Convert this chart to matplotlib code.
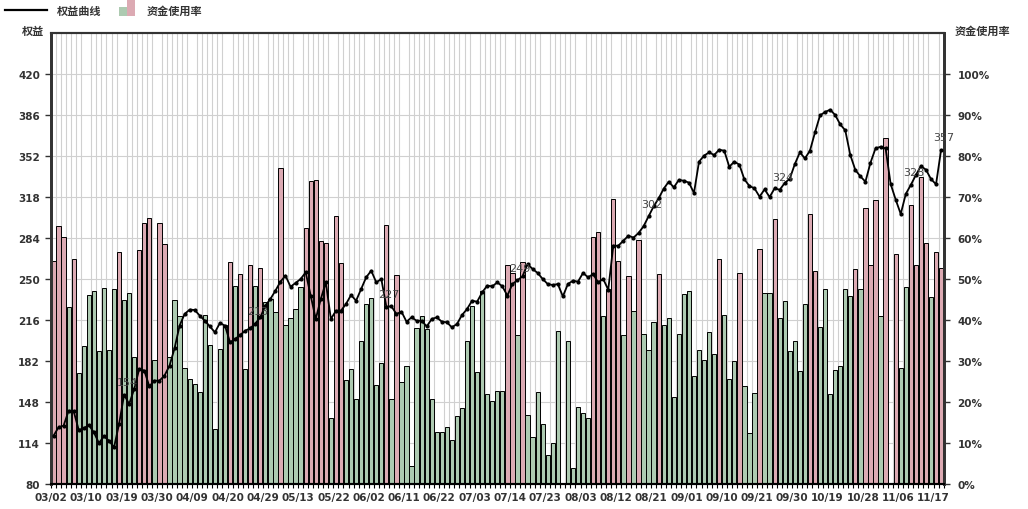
import matplotlib
matplotlib.use("Agg")
import matplotlib.pyplot as plt
from matplotlib.patches import Rectangle
from matplotlib.lines import Line2D
import numpy as np

CJK = ['Noto Sans CJK SC', 'DejaVu Sans']

# x axis labels, one every 7 trading days
date_labels = ['03/02', '03/10', '03/19', '03/30', '04/09', '04/20', '04/29',
               '05/13', '05/22', '06/02', '06/11', '06/22', '07/03', '07/14',
               '07/23', '08/03', '08/12', '08/21', '09/01', '09/10', '09/21',
               '09/30', '10/19', '10/28', '11/06', '11/17']

# equity curve (left axis)
equity = [
    120, 127, 128.4, 140.8, 140.3, 124.8, 126.2, 128.9, 122.8, 114.0,
    119.5, 115.9, 110.4, 129.8, 154, 146.3, 158.8, 175.4, 174.0, 161.0,
    165.7, 165.7, 169.8, 178.1, 192.5, 211.3, 221.0, 224.6, 224.3, 219.6,
    215.4, 210.7, 205.8, 213.5, 211.3, 197.5, 200.2, 203.5, 207.1, 209.1,
    213, 218.2, 227.9, 233.4, 240.3, 247.8, 252.8, 243.6, 246.7, 250.0,
    255.5, 236.2, 216.8, 233.4, 247.2, 216.8, 223.7, 223.7, 229.3, 236.7,
    232.0, 241.7, 251.4, 256.9, 247.2, 250.0, 227, 227.3, 221.0, 222.9,
    214.6, 218.2, 215.4, 215.4, 210.7, 216.8, 218.2, 214.6, 214.1, 209.9,
    212.7, 220.1, 225.1, 232.0, 231.2, 238.9, 244.5, 243.9, 247.2, 243.9,
    236.2, 245.8, 249, 252.2, 262.4, 258.3, 255.0, 250.0, 245.8, 245.0,
    245.8, 235.6, 245.8, 248.6, 247.8, 255.0, 251.4, 254.1, 247.2, 250.0,
    241.1, 277.6, 277.6, 281.8, 285.9, 284.3, 288.1, 293.7, 302, 310.2,
    316.9, 324.9, 330.7, 326.0, 332.1, 331.5, 329.9, 321.3, 347.3, 352.3,
    355.0, 352.8, 357.2, 356.4, 343.1, 347.3, 344.8, 332.6, 327.1, 325.2,
    318.3, 324.3, 318.0, 325.2, 324, 329.6, 333.2, 345.3, 355.0, 350.0,
    356.4, 371.6, 385.7, 388.5, 390.4, 386.0, 378.2, 373.3, 352.8, 340.4,
    335.1, 330.7, 346.4, 358.3, 359.7, 358.3, 328.8, 315.8, 303.9, 320.5,
    328, 336.2, 343.7, 340.6, 332.9, 328.5, 357]

# points of the curve that carry a value label
labelled_points = [14, 40, 66, 92, 118, 144, 170, 176]

# capital usage in % (right axis)
usage = [
    54.5, 62.9, 60.2, 43.1, 54.8, 27.0, 33.6, 46.0, 47.0, 32.4,
    47.7, 32.6, 47.5, 56.7, 44.8, 46.5, 30.9, 57.0, 63.6, 64.9,
    30.2, 63.6, 58.5, 31.0, 45.0, 41.0, 28.2, 25.7, 24.5, 22.5,
    41.2, 34.0, 13.4, 33.0, 38.8, 54.1, 48.4, 51.2, 28.0, 53.3,
    48.2, 52.8, 44.3, 45.1, 41.9, 77.0, 38.9, 40.4, 42.6, 48.1,
    62.4, 73.8, 74.1, 59.2, 58.8, 16.0, 65.3, 53.8, 25.4, 28.0,
    20.7, 34.8, 43.8, 45.3, 24.1, 29.4, 63.1, 20.7, 50.9, 25.0,
    28.7, 4.5, 38.0, 40.9, 37.8, 20.7, 12.6, 12.6, 13.8, 10.7,
    16.5, 18.5, 34.8, 43.3, 27.2, 47.0, 21.9, 20.2, 22.8, 22.8,
    53.4, 51.5, 36.3, 54.1, 16.8, 11.4, 22.4, 14.6, 7.1, 10.0,
    37.2, 0, 35.0, 3.8, 18.9, 17.3, 16.0, 60.2, 61.4, 40.9,
    47.6, 69.5, 54.3, 36.4, 50.7, 42.1, 59.4, 36.7, 32.6, 39.4,
    51.1, 38.9, 40.4, 21.1, 36.5, 46.3, 47.0, 26.3, 32.6, 30.2,
    37.0, 31.6, 55.0, 41.1, 25.5, 29.9, 51.5, 23.8, 12.4, 22.1,
    57.2, 46.5, 46.7, 64.6, 40.4, 44.6, 32.4, 34.8, 27.5, 43.8,
    65.8, 51.9, 38.2, 47.5, 21.9, 27.7, 28.9, 47.5, 45.8, 52.4,
    47.5, 67.3, 53.3, 69.2, 40.9, 84.3, 0, 56.0, 28.2, 48.0,
    68.0, 53.3, 75.0, 58.7, 45.5, 56.5, 52.6]

# p = pink bar, g = green bar
usage_kind = ("pppgpggggg" "gggpgggppp" "gppggggggg" "gggggpgpgp"
              "gpgggpgggg" "pppppgppgg" "ggggggpgpg" "gggggggggg"
              "gggggggggg" "ppgpgggggg" "gggggggppg" "pppgpgpggg"
              "pggggggggg" "ggpgggpggg" "pggpgggggg" "ppgggggggp"
              "gpppgpgpgg" "ppppgpp")

PINK = '#dcaab3'
GREEN = '#adcab1'
GRID = '#d0d0d0'
TXT = '#333333'

n = len(usage)
x = np.arange(n)
bar_colors = [PINK if k == 'p' else GREEN for k in usage_kind]

fig = plt.figure(figsize=(10.28, 5.10), dpi=100)
ax = fig.add_axes([51 / 1028, 25 / 510, 892.6 / 1028, 451 / 510])
ax2 = ax.twinx()

# bars on the percent axis (right side)
ax.bar(x, usage, width=0.85, color=bar_colors, edgecolor='black',
       linewidth=0.7, zorder=2)
ax.set_xlim(-0.5, n - 0.5)
ax.set_ylim(0, 110)
ax.yaxis.tick_right()
ax.set_yticks(np.arange(0, 101, 10))
ax.set_yticklabels([f'{v}%' for v in range(0, 101, 10)])
ax.set_xticks(np.arange(0, n, 7) - 0.5)
ax.set_xticklabels(date_labels)
ax.set_xticks(np.arange(n + 1) - 0.5, minor=True)
ax.set_axisbelow(True)
ax.grid(axis='y', which='major', color=GRID, linewidth=0.8)
ax.grid(axis='x', which='minor', color=GRID, linewidth=0.8)
ax.tick_params(axis='x', which='both', direction='out', length=3, width=0.8,
               color='black', labelsize=7.5, labelcolor=TXT, pad=3)
ax.tick_params(axis='y', direction='out', length=4, width=1, color=TXT,
               labelsize=7.5, labelcolor=TXT, pad=6)
for lab in ax.get_xticklabels() + ax.get_yticklabels():
    lab.set_fontweight('bold')

# equity curve on the left axis
ax2.set_ylim(80, 454)
ax2.yaxis.tick_left()
ax2.set_yticks(np.arange(80, 421, 34))
ax2.tick_params(axis='y', direction='out', length=4, width=1, color=TXT,
                labelsize=7.5, labelcolor=TXT, pad=4)
for lab in ax2.get_yticklabels():
    lab.set_fontweight('bold')
ax2.plot(x, equity, color='black', linewidth=1.3, marker='o', markersize=2.0,
         zorder=3)
for i in labelled_points:
    ax2.annotate(f'{equity[i]:.0f}', (x[i], equity[i]), xytext=(2, 9),
                 textcoords='offset points', ha='center', va='center',
                 fontsize=8, color='#444444', annotation_clip=False)

for a in (ax, ax2):
    a.spines['left'].set_linewidth(2)
    a.spines['left'].set_color(TXT)
    a.spines['right'].set_linewidth(2)
    a.spines['right'].set_color(TXT)
    a.spines['top'].set_linewidth(1.5)
    a.spines['top'].set_color(TXT)
    a.spines['bottom'].set_linewidth(1.5)
    a.spines['bottom'].set_color('black')

# axis titles
fig.text(33 / 1028, 1 - 31 / 510, '权益', family=CJK, fontsize=8,
         fontweight='bold', color=TXT, ha='center', va='center')
fig.text(982 / 1028, 1 - 31 / 510, '资金使用率', family=CJK, fontsize=8,
         fontweight='bold', color=TXT, ha='center', va='center')

# legend drawn by hand at the top left
fig.add_artist(Line2D([5 / 1028, 47 / 1028], [1 - 11 / 510, 1 - 11 / 510],
                      color='black', linewidth=1.6))
fig.text(57 / 1028, 1 - 11 / 510, '权益曲线', family=CJK, fontsize=8,
         fontweight='bold', color=TXT, ha='left', va='center')
fig.add_artist(Rectangle((119 / 1028, 1 - 17 / 510), 8 / 1028, 9 / 510,
                         facecolor=GREEN, edgecolor='none',
                         transform=fig.transFigure))
fig.add_artist(Rectangle((127 / 1028, 1 - 17 / 510), 8 / 1028, 17 / 510,
                         facecolor=PINK, edgecolor='none',
                         transform=fig.transFigure))
fig.text(147 / 1028, 1 - 11 / 510, '资金使用率', family=CJK, fontsize=8,
         fontweight='bold', color=TXT, ha='left', va='center')

fig.savefig('out.png', dpi=100, facecolor='white')
